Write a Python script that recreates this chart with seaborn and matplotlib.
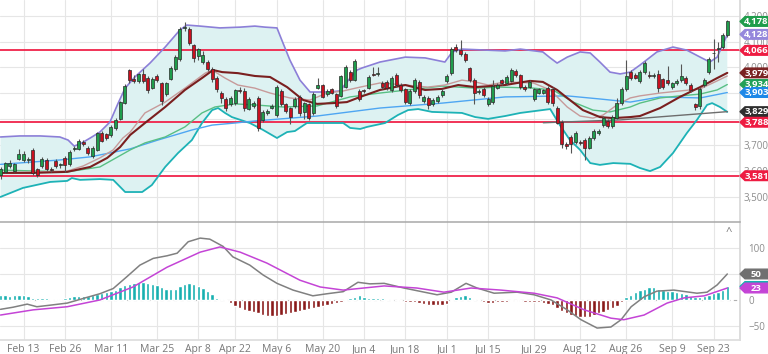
import numpy as np
import matplotlib
matplotlib.use("Agg")
import matplotlib.pyplot as plt
from matplotlib.patches import Polygon
from matplotlib.transforms import IdentityTransform
import seaborn as sns

sns.set_theme(style="white")
plt.rcParams["font.family"] = ["Open Sans", "DejaVu Sans"]

# ---- daily candles ----
opens = [3585, 3596, 3619, 3600, 3647, 3642, 3642, 3681, 3606, 3619, 3640, 3608, 3638, 3622, 3650, 3625, 3683, 3686, 3713, 3690,
         3658, 3681, 3748, 3741, 3737, 3765, 3800, 3864, 3989, 3957, 3948, 3976, 3961, 3922, 3967, 3939, 3896, 3957, 3993, 4032,
         4154, 4150, 4086, 4045, 4021, 4021, 3993, 3961, 3903, 3879, 3857, 3864, 3912, 3909, 3841, 3851, 3883, 3797, 3823, 3845,
         3815, 3909, 3857, 3842, 3851, 3887, 3828, 3857, 3823, 3922, 3931, 3896, 3916, 3896, 3890, 3926, 3983, 3952, 3909, 3912,
         3922, 3976, 3976, 3939, 3944, 3912, 3970, 3931, 3916, 3864, 3909, 3944, 3870, 3883, 3857, 3870, 3892, 3948, 3977, 4081,
         4068, 4051, 3996, 3952, 3905, 3918, 3857, 3867, 3922, 3950, 3939, 3948, 3986, 3970, 3926, 3926, 3877, 3903, 3903, 3922,
         3918, 3842, 3789, 3703, 3731, 3712, 3712, 3719, 3690, 3728, 3748, 3776, 3793, 3774, 3806, 3861, 3918, 3983, 3971, 3948,
         3983, 3970, 3967, 3976, 3954, 3952, 3926, 3939, 3952, 3961, 3931, 3857, 3851, 3931, 3983, 4054, 4070, 4079, 4125]
closes = [3608, 3629, 3632, 3625, 3664, 3667, 3644, 3590, 3583, 3647, 3608, 3603, 3620, 3623, 3621, 3673, 3688, 3716, 3703, 3670,
          3690, 3748, 3716, 3728, 3771, 3797, 3867, 3928, 3952, 3948, 3974, 3948, 3912, 3957, 3952, 3870, 3939, 3999, 4041, 4150,
          4158, 4094, 4038, 4070, 4047, 3993, 3957, 3916, 3883, 3845, 3883, 3912, 3908, 3845, 3877, 3861, 3767, 3828, 3832, 3851,
          3926, 3857, 3832, 3810, 3877, 3823, 3861, 3806, 3899, 3931, 3887, 3909, 3903, 3851, 3965, 4003, 3952, 4025, 3879, 3908,
          3963, 3972, 3976, 3926, 3922, 3961, 3931, 3913, 3867, 3909, 3952, 3892, 3887, 3854, 3874, 3887, 3909, 3967, 4073, 4068,
          4051, 4029, 3952, 3900, 3909, 3892, 3877, 3928, 3931, 3940, 3963, 3989, 3970, 3926, 3918, 3944, 3916, 3916, 3912, 3867,
          3861, 3787, 3703, 3696, 3703, 3748, 3707, 3690, 3728, 3754, 3753, 3806, 3774, 3810, 3864, 3918, 3967, 3961, 3961, 3983,
          4019, 3968, 3970, 3922, 3926, 3939, 3938, 3948, 3965, 3939, 3912, 3848, 3918, 3950, 4032, 4057, 4075, 4127, 4178]
highs = [3615, 3636, 3640, 3630, 3685, 3675, 3655, 3690, 3612, 3652, 3650, 3615, 3645, 3630, 3656, 3680, 3696, 3722, 3719, 3698,
         3695, 3752, 3755, 3748, 3778, 3805, 3872, 3935, 3995, 3970, 3980, 3995, 3967, 3962, 3975, 3945, 3945, 4005, 4047, 4158,
         4175, 4158, 4092, 4076, 4064, 4030, 4000, 3968, 3910, 3884, 3890, 3918, 3925, 3922, 3884, 3870, 3890, 3834, 3838, 3858,
         3932, 3915, 3862, 3848, 3884, 3893, 3868, 3862, 3905, 3958, 3936, 3915, 3922, 3902, 3972, 4010, 3990, 4032, 3915, 3918,
         3970, 4000, 4003, 3946, 3950, 3968, 3978, 3938, 3922, 3915, 3960, 3950, 3895, 3890, 3882, 3894, 3915, 3975, 4080, 4090,
         4105, 4058, 4003, 3958, 3915, 3925, 3884, 3950, 3938, 3956, 3970, 3996, 3993, 3976, 3932, 3951, 3922, 3922, 3918, 3930,
         3925, 3850, 3795, 3712, 3738, 3755, 3718, 3726, 3735, 3760, 3760, 3812, 3800, 3816, 3880, 3925, 4030, 3990, 3978, 3990,
         4025, 3985, 3978, 3990, 3960, 4006, 3944, 3955, 4012, 3968, 3938, 3864, 3924, 3958, 4040, 4110, 4100, 4135, 4182]
lows = [3570, 3590, 3612, 3596, 3640, 3636, 3630, 3585, 3578, 3612, 3600, 3596, 3612, 3610, 3596, 3620, 3678, 3680, 3696, 3660,
        3650, 3676, 3710, 3720, 3730, 3758, 3795, 3858, 3940, 3940, 3940, 3940, 3900, 3915, 3945, 3855, 3888, 3950, 3985, 4025,
        4140, 4088, 4020, 4030, 4012, 3985, 3945, 3905, 3862, 3830, 3850, 3855, 3900, 3830, 3835, 3844, 3754, 3790, 3816, 3840,
        3808, 3850, 3825, 3780, 3844, 3814, 3800, 3795, 3815, 3915, 3880, 3890, 3896, 3844, 3884, 3920, 3945, 3946, 3870, 3900,
        3915, 3965, 3968, 3915, 3912, 3905, 3925, 3905, 3858, 3855, 3902, 3880, 3862, 3840, 3850, 3862, 3885, 3940, 3970, 4060,
        4044, 4020, 3945, 3860, 3898, 3884, 3850, 3860, 3915, 3933, 3932, 3942, 3962, 3918, 3910, 3919, 3870, 3897, 3896, 3860,
        3850, 3780, 3690, 3683, 3670, 3705, 3700, 3640, 3684, 3720, 3740, 3768, 3766, 3767, 3800, 3855, 3910, 3952, 3954, 3940,
        3976, 3960, 3960, 3905, 3918, 3932, 3918, 3932, 3945, 3932, 3905, 3835, 3838, 3924, 3976, 3995, 4020, 4072, 4118]

# ---- overlays, read at points along each line (x = candle number) ----
bb_up_x = [0, 4.2, 8.6, 12.9, 14.7, 16, 17.3, 19.5, 21.6, 23.8, 25.5, 27.1, 29.2, 32.5, 35.8, 39, 40.5, 43.4, 47.7, 52.1,
           55.3, 57.5, 60.1, 61.4, 62.9, 65.1, 67.3, 71, 73.8, 75.3, 77.5, 78.6, 82.5, 88, 92.3, 96.6, 98.2, 100.3, 109.7, 113,
           117.9, 119.5, 121, 123.2, 126, 128.2, 130.3, 132.5, 134.7, 136.9, 139, 142.7, 146.2, 149.2, 152.1, 154.2, 155.8, 158]
bb_up = [3731, 3735, 3735, 3731, 3719, 3696, 3704, 3727, 3750, 3789, 3859, 3920, 3963, 4017, 4079, 4145, 4164, 4160, 4153, 4156,
         4160, 4156, 4153, 4095, 4029, 3951, 3905, 3905, 3909, 3944, 3990, 3998, 4021, 4040, 4037, 4021, 4060, 4071, 4064, 4071,
         4060, 4037, 4017, 4040, 4060, 4056, 4021, 3982, 3975, 3982, 4009, 4060, 4079, 4067, 4040, 4021, 4040, 4128]
bb_lo_x = [0, 4.9, 10.8, 14.5, 15.5, 17.3, 21.6, 24.5, 26, 27.1, 30.8, 32.9, 35.8, 38.6, 41.6, 43.8, 46, 47.3, 48.8, 50.3,
           54.2, 57.1, 60.1, 62.3, 64, 66.6, 74.5, 76, 78.2, 79.7, 83.6, 86.4, 88.6, 90.8, 93.8, 100.3, 103.2, 106, 109.7, 113,
           119.5, 121.6, 123.8, 126, 128.2, 130.3, 133.2, 136.9, 139, 141.2, 143.4, 146.2, 149.2, 151.4, 153.6, 154.7, 156.4, 158]
bb_lo = [3499, 3534, 3557, 3561, 3572, 3565, 3568, 3565, 3538, 3518, 3518, 3545, 3615, 3669, 3719, 3785, 3835, 3843, 3824, 3808,
         3785, 3758, 3727, 3750, 3754, 3785, 3785, 3766, 3762, 3770, 3785, 3816, 3835, 3839, 3828, 3824, 3808, 3801, 3812, 3824,
         3839, 3777, 3719, 3681, 3630, 3623, 3630, 3627, 3611, 3599, 3615, 3669, 3746, 3797, 3855, 3862, 3847, 3828]
ma_dark_x = [0, 7, 14.5, 19.5, 23.2, 26, 28.2, 31.4, 35.8, 40.1, 43.8, 46.2, 48.2, 51.6, 55.3, 58.6, 62.3, 65.8, 68.8, 72.3,
             75.3, 78.2, 82.5, 88, 92.3, 96, 99.5, 103.2, 109.7, 115.1, 117.9, 121, 123.2, 126.6, 130.3, 133.2, 136.9, 139,
             143.4, 147.7, 152.1, 155.8, 158]
ma_dark = [3592, 3592, 3596, 3615, 3650, 3692, 3739, 3785, 3847, 3913, 3959, 3990, 3982, 3978, 3967, 3963, 3924, 3874, 3859, 3862,
           3866, 3886, 3913, 3932, 3913, 3917, 3932, 3924, 3932, 3948, 3944, 3913, 3882, 3835, 3808, 3804, 3808, 3812,
           3843, 3886, 3924, 3959, 3979]
ma_pink_x = [0, 14.5, 18, 21.6, 24.5, 26.6, 28.2, 31.4, 35.8, 40.1, 44.5, 46, 48.8, 51.6, 55.3, 58.6, 62.9, 67.3, 71, 74.5,
             78.2, 82.5, 88, 92.9, 96.6, 100.3, 103.2, 106, 109.7, 115.8, 119.5, 123.2, 126, 128.8, 131, 134, 136.9, 139,
             143.4, 147.7, 152.1, 155.8, 158]
ma_pink = [3592, 3599, 3619, 3650, 3681, 3727, 3750, 3824, 3866, 3920, 3978, 3990, 3959, 3932, 3920, 3901, 3882, 3874, 3901, 3909,
           3924, 3940, 3932, 3924, 3932, 3951, 3944, 3932, 3944, 3940, 3913, 3847, 3812, 3804, 3816, 3855, 3882, 3890,
           3901, 3909, 3917, 3948, 3967]
ma_green_x = [0, 14.5, 21.6, 28.2, 31.4, 35.8, 40.1, 43.8, 46.6, 51, 55.3, 61.4, 68.8, 76, 82.5, 96, 103.2, 108.6, 115.8, 120.1,
              124.5, 128.8, 132.5, 136.9, 139, 143.4, 147.7, 152.1, 155.8, 158]
ma_green = [3603, 3596, 3615, 3681, 3708, 3731, 3770, 3824, 3847, 3859, 3855, 3847, 3851, 3886, 3901, 3928, 3920, 3924, 3920, 3913,
            3866, 3835, 3828, 3847, 3862, 3882, 3890, 3897, 3913, 3934]
ma_blue_x = [0, 12.9, 19.5, 28.2, 34.2, 41.6, 46, 51, 55.3, 68.8, 82.5, 96, 109.7, 123.2, 130.3, 136.9, 143.4, 152.1, 158]
ma_blue = [3625, 3642, 3654, 3685, 3719, 3758, 3777, 3785, 3793, 3812, 3843, 3862, 3886, 3890, 3878, 3866, 3886, 3882, 3903]
ma_gray_x = [118, 134.7, 158]
ma_gray = [3786, 3797, 3829]
levels = [4066, 3788, 3581]

# ---- MACD panel ----
macd_x = [0, 2.7, 5.8, 7.9, 10.8, 14.5, 18.8, 21.6, 24.5, 27.5, 30.3, 33.2, 36.2, 38.4, 40.8, 43.4, 45.5, 48.4, 50.5, 54.2,
          57.1, 60.1, 63.6, 67.9, 71, 74.5, 77.7, 80.3, 83.4, 87.7, 94.9, 98, 101.2, 103.6, 107.3, 112.3, 116, 119.7, 123.2,
          126.2, 129.7, 132.7, 134.9, 137.1, 139.9, 142.7, 146.4, 151.4, 153.6, 155.8, 158]
macd = [-18, -14, -8, -13, -10, -6, 5, 12, 22, 45, 67, 80, 85, 90, 112, 119, 117, 103, 83, 67,
        48, 32, 19, 8, 12, 16, 34, 31, 32, 23, 10, 15, 32, 23, 13, 15, 10, 0, -19,
        -38, -54, -52, -38, -13, 6, 17, 19, 13, 15, 29, 50]
signal_x = [0, 7.1, 14.5, 21.6, 28.8, 36.2, 43.4, 47.7, 52.1, 57.9, 65.1, 69.5, 74.5, 83.4, 90.5, 96.4, 102.3, 108.8, 116, 121,
            126.9, 132.7, 135.5, 139.9, 144.9, 148.6, 153, 158]
signal = [-29, -19, -13, 0, 25, 63, 92, 102, 92, 71, 38, 25, 19, 27, 23, 15, 23, 19, 13, 4,
          -19, -35, -38, -29, -6, 4, 8, 23]
hist = [9, 9, 8, 9, 9, 10, 7, 3, 3, 3, 3, 2, 2, 2, 3, 5, 7, 8, 8, 8, 9, 11, 13, 15, 17, 20, 24, 28, 31, 33, 34, 35,
        33, 31, 29, 24, 22, 21, 22, 27, 31, 32, 30, 26, 23, 18, 12, 3, 1,
        -2, -6, -11, -15, -19, -22, -24, -25, -28, -30, -31, -31, -29, -27, -25, -23, -21, -19, -17, -15, -14, -11, -9, -7,
        -5, -4, -2, 3, 5, 9, 5, 3, 3, 3, 3, 1, 1, 0.5, -2, -3, -4, -4, -5, -7, -9, -10, -10, -10, -7, 2, 5, 8, 9, 6, 2, 0,
        -3, -5, -5, -4, -4, -3, -2, -2, -2, -3, -3, -4, -4, -5, -7, -10, -15, -21, -26, -29, -31, -32, -33, -32, -29, -26,
        -23, -20, -16, -11, -4, 5, 10, 15, 19, 22, 24, 24, 22, 20, 18, 17, 16, 14, 11, 8, 6, 5, 7, 10, 13, 16, 20, 26]

date_pos = [5, 14, 24, 34, 43, 51, 60, 70, 79, 88, 97, 106, 116, 126, 136, 146, 155]
date_labels = ["Feb 13", "Feb 26", "Mar 11", "Mar 25", "Apr 8", "Apr 22", "May 6", "May 20", "Jun 4",
               "Jun 18", "Jul 1", "Jul 15", "Jul 29", "Aug 12", "Aug 26", "Sep 9", "Sep 23"]

W, H = 768, 354
fig = plt.figure(figsize=(W / 100, H / 100), dpi=100)
right = 740 / W
ax = fig.add_axes([0, 1 - 222 / H, right, 222 / H])
ax2 = fig.add_axes([0, 14 / H, right, 118 / H])

xlim = (-0.11, 160.76)
grid_c = "#e6e6e6"

# ---------- price panel ----------
ax.fill(np.r_[bb_up_x, bb_lo_x[::-1]], np.r_[bb_up, bb_lo[::-1]], color="#ddf2f2", lw=0, zorder=1)
for v in levels:
    ax.axhline(v, color="#f0234a", lw=1.3, zorder=2)

lines = [(bb_up_x, bb_up, "#8c7fd8", 1.2), (bb_lo_x, bb_lo, "#1db2b6", 1.3),
         (ma_blue_x, ma_blue, "#4ea6f2", 1.0), (ma_green_x, ma_green, "#58bf84", 1.0),
         (ma_gray_x, ma_gray, "#6d6d6d", 1.0), (ma_pink_x, ma_pink, "#c79a9a", 1.0),
         (ma_dark_x, ma_dark, "#7a1f1f", 1.5)]
for xs, ys, c, lw in lines:
    sns.lineplot(x=xs, y=ys, ax=ax, color=c, lw=lw, sort=False, estimator=None, zorder=3)

o = np.array(opens)
c = np.array(closes)
idx = np.arange(len(c))
up = c >= o
ax.vlines(idx, lows, highs, color="#555555", lw=0.8, zorder=4)
ax.bar(idx, np.maximum(np.abs(c - o), 2.5), bottom=np.minimum(o, c), width=0.68,
       color=np.where(up, "#1f9d4c", "#c8101f"), edgecolor="#2a2a2a", linewidth=0.5, zorder=5)

ax.set_xlim(*xlim)
ax.set_ylim(3402, 4261)
ax.set_yticks(range(3500, 4201, 100))
ax.set_yticklabels([f"{v:,}" for v in range(3500, 4201, 100)])
ax.set_xticks(date_pos)
ax.grid(True, color=grid_c, lw=0.8)
ax.set_axisbelow(True)
ax.yaxis.tick_right()
ax.tick_params(axis="y", length=0, pad=2.5, labelsize=7, labelcolor="#8c8c8c")
ax.tick_params(axis="x", length=0, labelbottom=False)
for s in ["top", "left", "bottom"]:
    ax.spines[s].set_visible(False)
ax.spines["right"].set_color("#d8d8d8")

# ---------- MACD panel ----------
hv = np.array(hist)
ax2.bar(idx, hv, width=0.72, color=np.where(hv >= 0, "#17b0b0", "#8a1a1a"), zorder=2)
sns.lineplot(x=macd_x, y=macd, ax=ax2, color="#808080", lw=1.1, sort=False, estimator=None, zorder=3)
sns.lineplot(x=signal_x, y=signal, ax=ax2, color="#c444d6", lw=1.1, sort=False, estimator=None, zorder=3)
for v in [-50, 50, 100]:
    ax2.axhline(v, color=grid_c, lw=0.8, zorder=0)
ax2.axhline(0, color="#b0b0b0", lw=0.8, ls=(0, (3, 3)), zorder=1)
ax2.set_xlim(*xlim)
ax2.set_ylim(-77, 150)
ax2.set_xticks(date_pos)
ax2.set_xticklabels(date_labels)
ax2.grid(True, axis="x", color=grid_c, lw=0.8)
ax2.set_axisbelow(True)
ax2.set_yticks([-50, 0, 50, 100])
ax2.yaxis.tick_right()
ax2.tick_params(axis="y", length=0, pad=6, labelsize=7, labelcolor="#8c8c8c")
ax2.tick_params(axis="x", length=0, pad=3, labelsize=7.5, labelcolor="#777777")
ax2.spines["left"].set_visible(False)
ax2.spines["top"].set_color("#a8a8a8")
ax2.spines["top"].set_linewidth(1.1)
ax2.spines["bottom"].set_color("#dddddd")
ax2.spines["right"].set_color("#d8d8d8")
ax2.text(729 / 740, (340 - 233) / 118, "^", transform=ax2.transAxes, ha="center", va="center",
         fontsize=8, color="#777777")


def badge(a, value, text, color, hh=4.8):
    yc = a.transData.transform((0, value))[1]
    x0 = right * W
    pts = [(x0, yc), (x0 + 5, yc + hh), (W, yc + hh), (W, yc - hh), (x0 + 5, yc - hh)]
    fig.add_artist(Polygon(pts, closed=True, color=color, transform=IdentityTransform(), zorder=10))
    fig.text(x0 + 16.5, yc - 0.3, text, transform=IdentityTransform(), ha="center", va="center",
             fontsize=6.8, color="white", fontweight="bold", zorder=11)


badge(ax, closes[-1], f"{closes[-1]:,}", "#1f9d4c")
badge(ax, bb_up[-1], f"{bb_up[-1]:,}", "#9587dc")
badge(ax, levels[0], f"{levels[0]:,}", "#ee1c42")
badge(ax, ma_dark[-1], f"{ma_dark[-1]:,}", "#7a2222")
badge(ax, ma_green[-1], f"{ma_green[-1]:,}", "#22a058")
badge(ax, ma_blue[-1], f"{ma_blue[-1]:,}", "#1e88e8")
badge(ax, ma_gray[-1], f"{ma_gray[-1]:,}", "#2e2e2e")
badge(ax, levels[1], f"{levels[1]:,}", "#ee1c42")
badge(ax, levels[2], f"{levels[2]:,}", "#ee1c42")
badge(ax2, hist[-1], "", "#17b0b0")
badge(ax2, macd[-1], f"{macd[-1]}", "#707070")
badge(ax2, signal[-1], f"{signal[-1]}", "#c444d6")

fig.savefig("out.png", dpi=100)
plt.close(fig)
